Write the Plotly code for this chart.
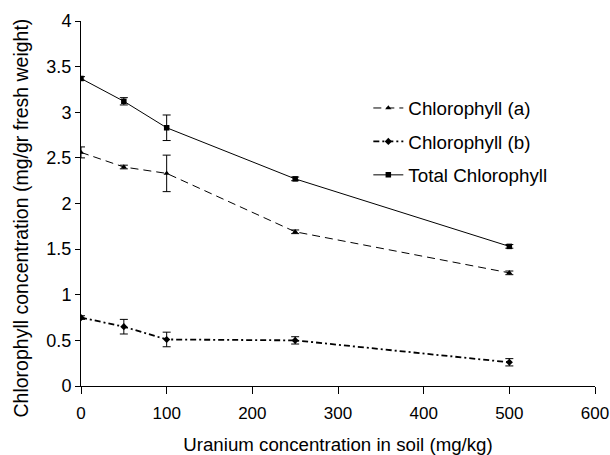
import plotly.graph_objects as go

uranium = [0, 50, 100, 250, 500]
chl_a = [2.56, 2.40, 2.33, 1.69, 1.24]
chl_a_err = [0.06, 0.02, 0.20, 0.02, 0.02]
chl_b = [0.75, 0.65, 0.51, 0.50, 0.26]
chl_b_err = [0.02, 0.08, 0.08, 0.04, 0.04]
total = [3.37, 3.12, 2.83, 2.27, 1.53]
total_err = [0.02, 0.04, 0.14, 0.02, 0.02]

x_ticks = [0, 100, 200, 300, 400, 500, 600]
y_ticks = [0, 0.5, 1, 1.5, 2, 2.5, 3, 3.5, 4]
y_tick_labels = ["0", "0.5", "1", "1.5", "2", "2.5", "3", "3.5", "4"]

font_family = "Liberation Sans, Arial, sans-serif"

fig = go.Figure()

def add_series(name, y, err, symbol, dash, width, group):
    fig.add_trace(go.Scatter(
        x=uranium, y=y, name=name, mode="lines+markers",
        legendgroup=group,
        line=dict(color="black", width=width, dash=dash),
        marker=dict(symbol=symbol, size=5.5, color="black"),
        error_y=dict(type="data", array=err, visible=True,
                     color="black", thickness=1, width=4),
    ))

add_series("Chlorophyll (a)", chl_a, chl_a_err, "triangle-up", "8px,5px", 1, "a")
add_series("Chlorophyll (b)", chl_b, chl_b_err, "diamond", "6px,3px,2px,3px", 1.8, "b")
add_series("Total Chlorophyll", total, total_err, "square", "solid", 1, "c")

fig.update_layout(
    width=610, height=455,
    margin=dict(l=81, r=15, t=21, b=69),
    paper_bgcolor="white", plot_bgcolor="white",
    font=dict(family=font_family, color="black"),
    showlegend=True,
    legend=dict(
        x=0.559, y=0.813, xanchor="left", yanchor="top",
        font=dict(size=18.8, family=font_family, color="black"),
        bgcolor="rgba(0,0,0,0)",
        traceorder="grouped", tracegroupgap=6,
    ),
    annotations=[dict(
        text="Chlorophyll concentration (mg/gr fresh weight)",
        xref="paper", yref="paper", x=0, y=0.5,
        xanchor="center", yanchor="middle",
        xshift=-61, yshift=-15, textangle=-90, showarrow=False,
        font=dict(size=19.5, family=font_family, color="black"),
    )],
)

fig.update_xaxes(
    range=[0, 600], tickvals=x_ticks, ticktext=[str(v) for v in x_ticks],
    showgrid=False, zeroline=False, automargin=False,
    showline=True, linecolor="black", linewidth=1,
    ticks="outside", ticklen=7, tickcolor="black",
    tickfont=dict(size=17), ticklabelstandoff=5,
    title=dict(text="Uranium concentration in soil (mg/kg)", font=dict(size=18.7), standoff=21),
)
fig.update_yaxes(
    range=[0, 4], tickvals=y_ticks, ticktext=y_tick_labels,
    showgrid=False, zeroline=False, automargin=False,
    showline=True, linecolor="black", linewidth=1,
    ticks="outside", ticklen=5, tickcolor="black",
    tickfont=dict(size=18),
)

fig.write_html(
    "out.html",
    config={"displayModeBar": False},
    post_script="document.body.style.margin='0';document.body.style.overflow='hidden';",
)
